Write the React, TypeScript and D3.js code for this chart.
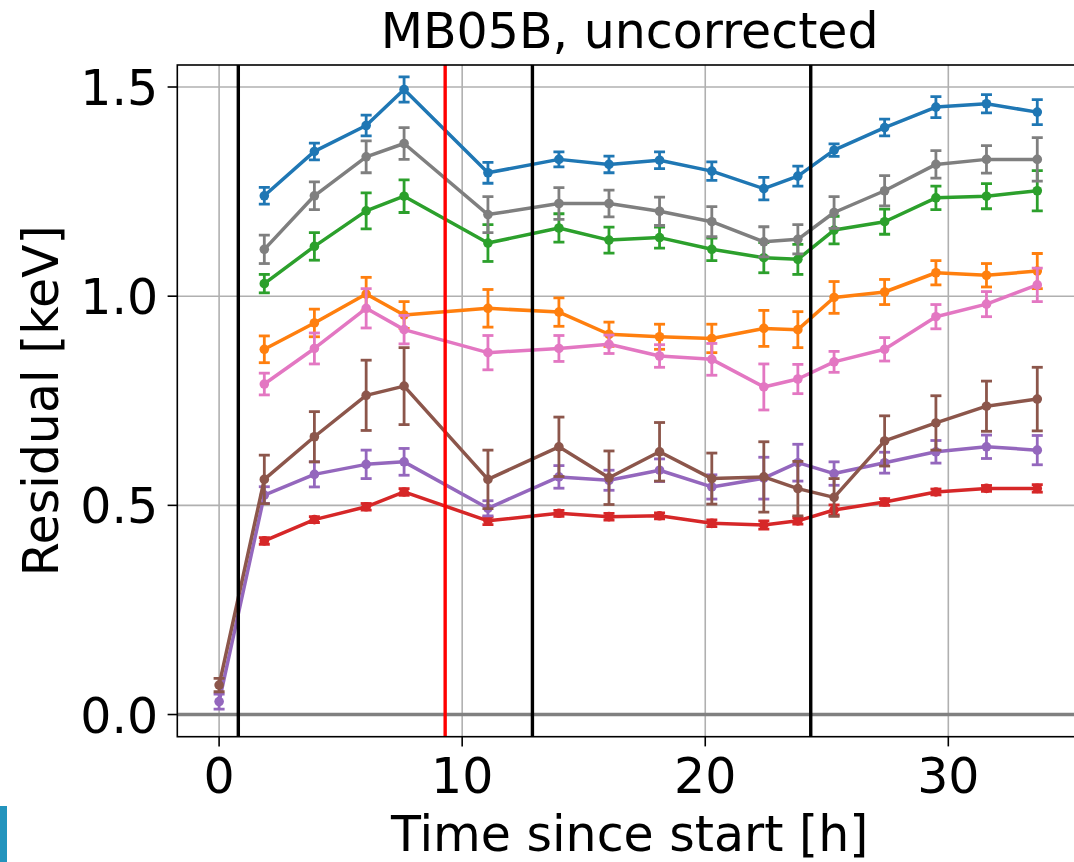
import React from "react";
import * as d3 from "d3";

const title = "MB05B, uncorrected";
const xLabel = "Time since start [h]";
const yLabel = "Residual [keV]";

const timeH = [1.86, 3.92, 6.05, 7.61, 11.06, 13.98, 16.04, 18.12, 20.27, 22.41, 23.81, 25.3, 27.38, 29.49, 31.57, 33.66];
const timeWithStart = [0, ...timeH];

const blueVals = [1.24, 1.346, 1.408, 1.494, 1.295, 1.327, 1.315, 1.325, 1.299, 1.257, 1.287, 1.349, 1.403, 1.452, 1.46, 1.44];
const blueErr = [0.02, 0.02, 0.025, 0.03, 0.025, 0.018, 0.02, 0.02, 0.022, 0.027, 0.024, 0.015, 0.02, 0.025, 0.022, 0.03];

const orangeVals = [0.873, 0.936, 1.005, 0.955, 0.971, 0.962, 0.909, 0.903, 0.899, 0.923, 0.92, 0.997, 1.01, 1.056, 1.05, 1.06];
const orangeErr = [0.032, 0.033, 0.04, 0.032, 0.045, 0.034, 0.029, 0.03, 0.034, 0.043, 0.043, 0.038, 0.03, 0.029, 0.028, 0.042];

const greenVals = [1.03, 1.119, 1.204, 1.239, 1.127, 1.163, 1.134, 1.14, 1.112, 1.092, 1.088, 1.158, 1.178, 1.235, 1.239, 1.252];
const greenErr = [0.022, 0.033, 0.043, 0.039, 0.044, 0.034, 0.031, 0.025, 0.027, 0.036, 0.036, 0.033, 0.03, 0.028, 0.03, 0.048];

const redVals = [0.415, 0.466, 0.4965, 0.532, 0.463, 0.481, 0.473, 0.475, 0.457, 0.453, 0.463, 0.489, 0.508, 0.532, 0.5405, 0.5405];
const redErr = [0.008, 0.007, 0.008, 0.008, 0.009, 0.007, 0.008, 0.007, 0.008, 0.01, 0.008, 0.012, 0.008, 0.007, 0.007, 0.009];

const purpleVals = [0.031, 0.5245, 0.574, 0.598, 0.604, 0.493, 0.568, 0.56, 0.584, 0.544, 0.565, 0.602, 0.576, 0.602, 0.628, 0.64, 0.632];
const purpleErr = [0.018, 0.02, 0.03, 0.034, 0.032, 0.018, 0.027, 0.024, 0.027, 0.029, 0.05, 0.044, 0.028, 0.025, 0.027, 0.028, 0.035];

const brownVals = [0.0705, 0.562, 0.664, 0.763, 0.785, 0.562, 0.64, 0.566, 0.628, 0.564, 0.568, 0.54, 0.519, 0.654, 0.697, 0.737, 0.754];
const brownErr = [0.016, 0.058, 0.06, 0.084, 0.092, 0.07, 0.071, 0.064, 0.07, 0.061, 0.084, 0.065, 0.045, 0.06, 0.065, 0.06, 0.076];

const pinkVals = [0.79, 0.875, 0.971, 0.92, 0.865, 0.875, 0.885, 0.857, 0.849, 0.783, 0.802, 0.843, 0.873, 0.951, 0.981, 1.027];
const pinkErr = [0.026, 0.037, 0.047, 0.034, 0.041, 0.031, 0.022, 0.027, 0.038, 0.055, 0.035, 0.025, 0.028, 0.029, 0.03, 0.04];

const grayVals = [1.112, 1.24, 1.333, 1.365, 1.195, 1.2215, 1.2215, 1.203, 1.178, 1.13, 1.136, 1.2, 1.252, 1.315, 1.327, 1.327];
const grayErr = [0.034, 0.033, 0.038, 0.038, 0.043, 0.038, 0.032, 0.034, 0.036, 0.036, 0.035, 0.038, 0.036, 0.033, 0.033, 0.052];

const blackLineTimes = [0.79, 12.89, 24.34];
const redLineTime = 9.3;

const xTicks = [0, 10, 20, 30];
const yTicks = [0.0, 0.5, 1.0, 1.5];

const series = [
  { name: "C0", color: "#1f77b4", t: timeH, v: blueVals, e: blueErr },
  { name: "C1", color: "#ff7f0e", t: timeH, v: orangeVals, e: orangeErr },
  { name: "C2", color: "#2ca02c", t: timeH, v: greenVals, e: greenErr },
  { name: "C3", color: "#d62728", t: timeH, v: redVals, e: redErr },
  { name: "C4", color: "#9467bd", t: timeWithStart, v: purpleVals, e: purpleErr },
  { name: "C5", color: "#8c564b", t: timeWithStart, v: brownVals, e: brownErr },
  { name: "C6", color: "#e377c2", t: timeH, v: pinkVals, e: pinkErr },
  { name: "C7", color: "#7f7f7f", t: timeH, v: grayVals, e: grayErr },
];

const W = 1074;
const H = 862;
const plotLeft = 177.3;
const plotRight = 1082;
const plotTop = 65;
const plotBottom = 736.7;

const FONT = "'DejaVu Sans', Verdana, sans-serif";
const FS = 49;

export default function App() {
  const x = d3.scaleLinear().domain([-1.72, 35.5]).range([plotLeft, plotRight]);
  const y = d3.scaleLinear().domain([-0.053, 1.5526]).range([plotBottom, plotTop]);
  const line = d3
    .line<[number, number]>()
    .x((d) => x(d[0]))
    .y((d) => y(d[1]));

  const cap = 5.5;

  return (
    <svg
      width={W}
      height={H}
      viewBox={`0 0 ${W} ${H}`}
      style={{ position: "absolute", left: 0, top: 0, background: "#fff" }}
    >
      <defs>
        <clipPath id="plotClip">
          <rect x={plotLeft} y={plotTop} width={plotRight - plotLeft} height={plotBottom - plotTop} />
        </clipPath>
      </defs>
      <rect x={0} y={0} width={W} height={H} fill="#fff" />

      {/* grid */}
      <g clipPath="url(#plotClip)">
        {xTicks.map((t) => (
          <line key={"gx" + t} x1={x(t)} x2={x(t)} y1={plotTop} y2={plotBottom} stroke="#b0b0b0" strokeWidth={1.6} />
        ))}
        {yTicks.map((t) => (
          <line key={"gy" + t} x1={plotLeft} x2={plotRight} y1={y(t)} y2={y(t)} stroke="#b0b0b0" strokeWidth={1.6} />
        ))}
        {/* zero line */}
        <line x1={plotLeft} x2={plotRight} y1={y(0)} y2={y(0)} stroke="#808080" strokeWidth={3.4} />

        {series.map((s) => {
          const pts: [number, number][] = s.t.map((t, i) => [t, s.v[i]]);
          return (
            <g key={s.name}>
              <path d={line(pts) || ""} fill="none" stroke={s.color} strokeWidth={3.5} strokeLinejoin="round" />
              {pts.map((p, i) => {
                const cx = x(p[0]);
                const yt = y(p[1] + s.e[i]);
                const yb = y(p[1] - s.e[i]);
                return (
                  <g key={i} stroke={s.color} strokeWidth={2.8}>
                    <line x1={cx} x2={cx} y1={yt} y2={yb} />
                    <line x1={cx - cap} x2={cx + cap} y1={yt} y2={yt} />
                    <line x1={cx - cap} x2={cx + cap} y1={yb} y2={yb} />
                  </g>
                );
              })}
              {pts.map((p, i) => (
                <circle key={"m" + i} cx={x(p[0])} cy={y(p[1])} r={4.8} fill={s.color} />
              ))}
            </g>
          );
        })}

        {blackLineTimes.map((t) => (
          <line key={"bl" + t} x1={x(t)} x2={x(t)} y1={plotTop} y2={plotBottom} stroke="#000" strokeWidth={3.4} />
        ))}
        <line x1={x(redLineTime)} x2={x(redLineTime)} y1={plotTop} y2={plotBottom} stroke="#ff0000" strokeWidth={3.4} />
      </g>

      {/* spines */}
      <rect
        x={plotLeft}
        y={plotTop}
        width={plotRight - plotLeft}
        height={plotBottom - plotTop}
        fill="none"
        stroke="#000"
        strokeWidth={1.6}
      />

      {/* x ticks */}
      {xTicks.map((t) => (
        <g key={"xt" + t}>
          <line x1={x(t)} x2={x(t)} y1={plotBottom} y2={plotBottom + 9.7} stroke="#000" strokeWidth={1.6} />
          <text x={x(t)} y={793} textAnchor="middle" fontFamily={FONT} fontSize={FS} fill="#000">
            {d3.format("d")(t)}
          </text>
        </g>
      ))}

      {/* y ticks */}
      {yTicks.map((t) => (
        <g key={"yt" + t}>
          <line x1={plotLeft - 9.7} x2={plotLeft} y1={y(t)} y2={y(t)} stroke="#000" strokeWidth={1.6} />
          <text x={plotLeft - 19} y={y(t) + 18} textAnchor="end" fontFamily={FONT} fontSize={FS} fill="#000">
            {d3.format(".1f")(t)}
          </text>
        </g>
      ))}

      {/* labels */}
      <text x={(plotLeft + plotRight) / 2} y={48} textAnchor="middle" fontFamily={FONT} fontSize={FS} fill="#000">
        {title}
      </text>
      <text x={(plotLeft + plotRight) / 2} y={851} textAnchor="middle" fontFamily={FONT} fontSize={FS} fill="#000">
        {xLabel}
      </text>
      <text
        transform={`translate(58, ${(plotTop + plotBottom) / 2}) rotate(-90)`}
        textAnchor="middle"
        fontFamily={FONT}
        fontSize={FS}
        fill="#000"
      >
        {yLabel}
      </text>

      {/* stray widget edge at bottom-left */}
      <rect x={0} y={806} width={7} height={56} fill="#2394bd" />
    </svg>
  );
}
